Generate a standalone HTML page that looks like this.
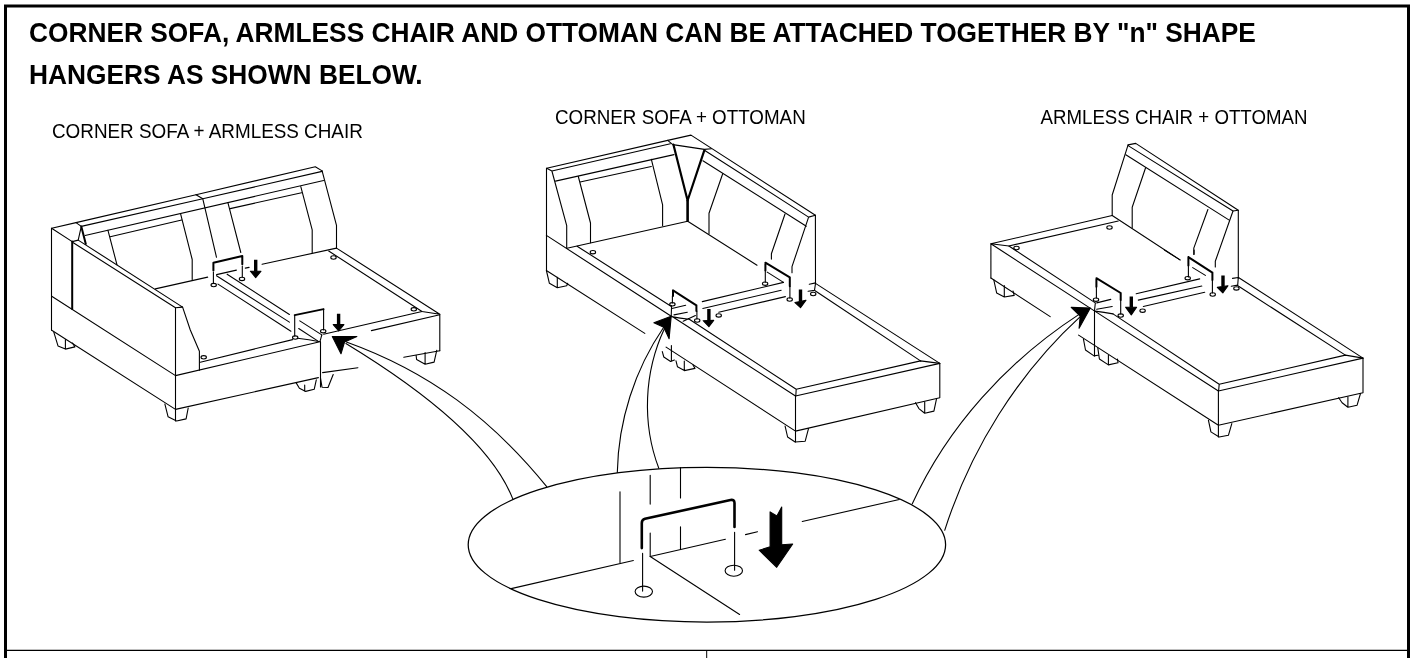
<!DOCTYPE html>
<html><head><meta charset="utf-8">
<style>
html,body{margin:0;padding:0;background:#fff;}
body{width:1417px;height:658px;overflow:hidden;position:relative;}
svg{position:absolute;left:0;top:0;}
text{font-family:"Liberation Sans",sans-serif;fill:#000;}
svg{will-change:transform;}
.t{font-weight:bold;font-size:26.33px;}
.s{font-size:18.8px;}
</style></head><body>
<svg width="1417" height="658" viewBox="0 0 1417 658">
<rect x="5.5" y="6" width="1403" height="700" fill="none" stroke="#000" stroke-width="3"/>
<line x1="7" y1="650.4" x2="1407" y2="650.4" stroke="#000" stroke-width="1.1"/>
<line x1="706.7" y1="650.4" x2="706.7" y2="658" stroke="#000" stroke-width="1"/>
<text class="t" transform="translate(29,42.3) scale(1,1.045)">CORNER SOFA, ARMLESS CHAIR AND OTTOMAN CAN BE ATTACHED TOGETHER BY "n" SHAPE</text>
<text class="t" transform="translate(29,84.4) scale(1,1.045)">HANGERS AS SHOWN BELOW.</text>
<text class="s" style="font-size:18.88px" transform="translate(52,137.7) scale(1,1.06)">CORNER SOFA + ARMLESS CHAIR</text>
<text class="s" transform="translate(555,124.4) scale(1,1.06)">CORNER SOFA + OTTOMAN</text>
<text class="s" style="font-size:18.69px" transform="translate(1040.5,124.4) scale(1,1.06)">ARMLESS CHAIR + OTTOMAN</text>
<g fill="none" stroke="#000" stroke-width="1.1" stroke-linejoin="round" stroke-linecap="round">
<!-- SOFA1 -->
<path d="M51.7,228.3 L76,222.6 L196,194.7 L315.3,166.8 L322.1,170.9"/>
<path d="M76,222.6 L81.3,226.4 L78.2,240.1 M72.2,241.6 L78.2,240.1"/>
<path d="M81.3,226.4 L85.8,243.9" stroke-width="2"/>
<path d="M81.3,226.4 L202.8,198.8 L322.1,171.4"/>
<path d="M196,194.7 L202.8,198.8 L216.5,257.3"/>
<path d="M85.1,235.5 L323.6,180.5"/>
<path d="M322.1,170.9 L336.5,225.3 L336.5,248.1"/>
<path d="M110.2,236.7 L181.7,220 M107.9,230.2 L117,264.8"/>
<path d="M180.6,213.8 L192.2,259.5 L192.2,279.5"/>
<path d="M230.2,208.6 L301.6,192.7 M227.9,202.6 L240.8,252.5"/>
<path d="M300.8,186.6 L312.2,229.9 L312.2,252.7"/>
<path d="M51.6,228.3 L72.2,241.6 M51.5,228.3 L51.5,330.2"/>
<path d="M72.2,241.6 L72.2,308.9" stroke-width="2"/>
<path d="M73.3,242.7 L175.5,307.8 M78.2,240.1 L182.6,307.1 M175.5,307.8 L182.6,307.1"/>
<path d="M175.5,307.8 L175.5,421 M182.6,307.1 L190.3,330 L199.4,351.2 L199.4,370.2"/>
<path d="M51.7,296.2 L175.5,375.6 M51.7,330.2 L175.5,409.4 L318.4,377.6"/>
<path d="M53.8,332.1 L58,345.9 L65.4,349.1 L74.9,346.9 L72.5,343 M65.4,339.5 L65.4,349.1"/>
<path d="M164.9,404.1 L168.1,416.8 L176.6,421 L186.1,418.9 L188.2,408"/>
<path d="M155.3,288.9 L207.7,277.1 M262.1,264.3 L336.5,248.1 M216.6,274.6 L236.4,270.1"/>
<path d="M200.3,362.2 L292.6,339.6 M297.5,338.3 Q309,339.5 319.9,341.8 M175.5,375.6 L319.9,341.8 M321.8,334.9 L319.9,341.8"/>

<path d="M216.5,275.7 L289.4,322.1 M218,284.1 L290.9,331.2 M227.1,274.2 L289.4,314.5"/>
<path d="M299.8,320.9 L321.8,334.9 M298.7,328.5 L318.4,341.4"/>
<path d="M213.4,262.8 L242.3,256 M213.4,262.8 L213.4,270.4 M242.3,256 L242.3,264.3" stroke-width="2"/>
<path d="M213.4,272 L213.4,283 M242.3,266 L242.3,277"/>
<path d="M294.7,315.2 L323.6,309.1" stroke-width="1.8"/>
<path d="M294.7,315.2 L294.7,336 M323.6,309.1 L323.6,330"/>
<ellipse cx="213.7" cy="285.1" rx="2.7" ry="1.7"/>
<ellipse cx="242" cy="278.9" rx="2.7" ry="1.7"/>
<ellipse cx="295.2" cy="337.6" rx="2.7" ry="1.7"/>
<ellipse cx="323.2" cy="331.2" rx="2.7" ry="1.7"/>
<ellipse cx="333.5" cy="257.5" rx="2.7" ry="1.7"/>
<ellipse cx="203.7" cy="357.3" rx="2.7" ry="1.7"/>
<ellipse cx="413.8" cy="309.3" rx="2.7" ry="1.7"/>
<path d="M336.5,248.1 L439.8,314.2 M328.7,251 L422,311.5 L439.8,314.2"/>
<path d="M422,311.5 L323.6,334.2 M439.8,314.2 L439.8,350.7 M371.4,330.6 L439.8,314.7"/>
<path d="M403.8,357.3 L439.8,350.7 M322.6,372.6 L357.9,367.7 M320.5,341.6 L320.5,387"/>
<path d="M416.1,355.2 L416.6,359.5 L425.1,364.3 L434.1,362.1 L436.8,350.2 M425.1,352.6 L425.1,364.3"/>
<path d="M296.2,382.9 L299.4,388.2 L305.7,391.4 L314.2,389.3 L316.3,379.8 M304.7,385 L304.7,391.2 M320.5,378 L322,387.2 L328,387.5 L333.2,374.5"/>
<path d="M255.7,259.8 L255.7,271.5 M338.6,313.7 L338.6,324.8" stroke-width="3.4" stroke-linecap="butt"/>
<path d="M250.4,271.2 L261,271.2 L255.7,277.6 Z M333.2,324.6 L343.9,324.6 L338.7,331 Z" fill="#000"/>
<path d="M332.3,336.5 L356.9,336.5 L344.6,341.9 L341,353.8 Z" fill="#000"/>

<path d="M245.3,268.1 L249.1,267.4"/>
<!-- SOFA1_END -->
<!-- SOFA2 -->
<path d="M546.7,168.3 L667.7,140.4 L691,135.1 L815.4,215.3"/>
<path d="M546.7,168.3 L551.9,171 L670.4,143.7 M551.9,171 L566.7,225.7 L566.7,248.2"/>
<path d="M555.5,181.1 L674,154.6"/>
<path d="M667.7,140.4 L672.8,144.6 M672.8,144.6 L704.4,149.4 L711.3,148.7 M690,147.2 L704.4,149.4"/>
<path d="M673.4,144.6 L687.6,200.5 L704.4,150.2" stroke-width="2.2"/>
<path d="M687.6,200 L687.6,221.4" stroke-width="2.6" stroke-linecap="butt"/>
<path d="M580.1,182 L651.3,166.5 M578.3,176.5 L590.5,223 L590.5,242.8 M651.3,159.2 L662.6,204.8 L662.6,225.7"/>
<path d="M567,248.2 L687.7,221.2 L757,265.2"/>
<path d="M704.4,150.2 L808.6,217.1 L815.4,215.3 M702.9,160.8 L806.3,226.2 M808.6,217.1 L792,266.7 L792,272.8"/>
<path d="M815.4,215.3 L815.5,283.4"/>
<path d="M722.7,173.8 L709,213.3 L709,233.8 M785,214 L771.4,253.8 L771.4,259.1"/>
<path d="M546.5,168.3 L546.5,270.5 M546.4,235.4 L670.9,316 M577.1,246.2 L671.4,306.5"/>
<path d="M546.4,270.5 L644.8,333.4"/>
<path d="M546.4,270.5 L549.4,283.3 L557.3,287.7 L566.7,285.8 L567.7,283.3 M557.3,277.4 L557.3,287.7"/>
<path d="M671.6,305.5 L671.2,316 M671.4,345.6 L671.4,360.8"/>
<path d="M666.1,347.1 L795.5,431.1 L939.8,397.7 L939.8,363.4 L795.5,396 L795.5,442"/>
<path d="M671.4,316 L795.5,396 M689.3,319.2 L796.2,389.3 L920.5,360.9 L939.8,363.4 M683.2,321.3 L695.4,315.5 M671.6,316.6 Q680,318.2 689.3,319.2 M796.2,389.3 L795.8,396"/>
<path d="M815.5,283.4 L939.8,363.4 M815.1,290.7 L920.5,360.9"/>
<path d="M662.3,351.6 L663.8,357 L670.6,361.5 L674.4,360 M676,360.8 L677.5,366.8 L684.3,370.6 L695,368.4 L693,365 M684.3,361 L684.3,370.6"/>
<path d="M785.1,426.1 L787.6,437 L795.1,442 L805.2,441.2 L808.5,428.6"/>
<path d="M915.5,402.7 L918.9,408.6 L924.7,413.2 L933.9,411.1 L936.4,399.4 M924.7,401.9 L924.7,413.2"/>
<path d="M673,290.4 L696.4,305.3 M673,290.4 L673,296 M696.4,305.3 L696.4,311" stroke-width="2"/>
<path d="M672.4,296 L672.4,303 M696.9,311 L696.9,319"/>
<path d="M765.4,262.7 L789.8,277.4 M765.4,262.7 L765.4,270.6 M789.8,277.4 L789.8,286.2" stroke-width="2"/>
<path d="M765.3,270.6 L765.3,282.2 M789.9,286.2 L789.9,298.3"/>
<path d="M671.9,308.5 L685.7,305.3 M674,314.9 L687.3,312.2 M767.2,272.1 L783.5,282.4"/>
<path d="M702.3,301.6 L783.5,282.4 M702.8,308.5 L781.2,290.3 M718.7,312.2 L785.4,296.6"/>
<path d="M809.3,284.3 L815.6,282.9 L814.5,290.4 L808.1,291.3"/>
<ellipse cx="672.4" cy="304.3" rx="2.7" ry="1.7"/>
<ellipse cx="697.2" cy="320.5" rx="2.7" ry="1.7"/>
<ellipse cx="718.7" cy="315.4" rx="2.7" ry="1.7"/>
<ellipse cx="765.1" cy="283.7" rx="2.7" ry="1.7"/>
<ellipse cx="789.7" cy="299.5" rx="2.7" ry="1.7"/>
<ellipse cx="813.2" cy="294" rx="2.7" ry="1.7"/>
<ellipse cx="592.9" cy="252.2" rx="2.7" ry="1.7"/>
<path d="M708.9,309.1 L708.9,320.5 M800.5,289.5 L800.5,301" stroke-width="3.4" stroke-linecap="butt"/>
<path d="M703.2,320.7 L713.7,320.3 L708.9,326.7 Z M795,302.5 L806,300.2 L800.5,307.7 Z" fill="#000"/>
<path d="M671.2,316.2 L653.9,322.8 L663.8,327.3 L669.1,338.7 Z" fill="#000"/>

<!-- SOFA2_END -->
<!-- SOFA3 -->
<path d="M1128.1,144.9 L1135.7,143.4 L1238.3,210.2 L1233,211 L1128.1,145.6"/>
<path d="M1125.8,154.8 L1229.2,220.1"/>
<path d="M1128.1,144.9 L1112.2,195 L1112.2,215.5"/>
<path d="M1145.6,167.7 L1132.2,207.2 L1132.2,227.7 M1207.9,209.5 L1193.8,248.1 L1193.8,254.5"/>
<path d="M1233,211 L1215.3,261.3 L1215.3,266.9 M1238.3,210.2 L1238.3,278.2"/>
<path d="M1112.2,215.5 L1180,259.9"/>
<path d="M990.9,243.8 L1112.2,215.5 M990.9,243.8 L1008.9,246 L1118.3,221"/>
<path d="M990.9,243.8 L990.9,278 M990.9,243.8 L1094,310.6 M1008.9,246 L1095.3,302.9"/>
<path d="M990.9,278 L1050.2,316.6 M1078.6,335.1 L1218.4,425.3 L1363,392.7 L1363,358.1 L1218.4,391 L1218.4,437"/>
<path d="M1094.5,310.6 L1094.5,356 M1095.3,303.3 L1094.5,310.6"/>
<path d="M1094,310.6 L1218.4,391 M1113,313.9 L1219.2,384.3 L1218.6,391 M1219.2,384.3 L1345.4,355.1 L1363,358.1"/>
<path d="M1238.5,277.5 L1363,358.1 M1237.1,285.3 L1345.4,355.1"/>
<path d="M1232.5,278.4 L1238.3,277.5 L1237.7,285.1 L1231.3,286.3"/>
<path d="M993.7,279.5 L996.7,293.1 L1004.3,297 L1014.2,295.4 L1013,291 M1004.3,285.5 L1004.3,297"/>
<path d="M1083.4,338.8 L1085.5,350 L1094,355.9 L1097.8,355.3 M1097.8,347.9 L1099.4,359 L1108.4,364.9 L1118,362.8 L1117.5,359 M1108.4,355.3 L1108.4,364.9"/>
<path d="M1208.4,420.2 L1210.9,431.9 L1219.2,437 L1228.4,435.3 L1231.8,423.6"/>
<path d="M1338.7,397.7 L1342.1,402.7 L1347.9,407.2 L1357.1,405.2 L1360.5,393.5 M1347.9,396.8 L1347.9,407.2"/>
<path d="M1096.4,278.2 L1120.7,293 M1096.4,278.2 L1096.4,286.7 M1120.7,293 L1120.7,300" stroke-width="2"/>
<path d="M1096.4,286.7 L1096.4,298 M1120.7,300 L1120.7,314"/>
<path d="M1188.4,257.1 L1212.4,272.6 M1188.4,257.1 L1188.4,265.5 M1212.4,272.6 L1212.4,280" stroke-width="2"/>
<path d="M1188.4,265.5 L1188.4,277 M1212.4,280 L1212.4,293"/>
<path d="M1096.7,302.9 L1110.8,299.4 M1096.7,309.3 L1112.2,306.5 M1095,311.1 Q1104,312.3 1113,313.9 M1192.7,267.6 L1205.4,275.4"/>
<path d="M1136.2,293.8 L1199.7,278.9 M1138.3,300.1 L1201.8,286 M1143.3,306.5 L1204.7,292.3"/>
<path d="M1164.4,250 L1180,259.9 M1194.1,250 L1194.1,254.2"/>
<ellipse cx="1096" cy="299.7" rx="2.7" ry="1.7"/>
<ellipse cx="1120.7" cy="315.6" rx="2.7" ry="1.7"/>
<ellipse cx="1142.6" cy="310.7" rx="2.7" ry="1.7"/>
<ellipse cx="1187.7" cy="278.2" rx="2.7" ry="1.7"/>
<ellipse cx="1212.7" cy="294.5" rx="2.7" ry="1.7"/>
<ellipse cx="1236.4" cy="288.4" rx="2.7" ry="1.7"/>
<ellipse cx="1016.5" cy="248" rx="2.7" ry="1.7"/>
<ellipse cx="1109.5" cy="227.5" rx="2.7" ry="1.7"/>
<path d="M1131.3,296.6 L1131.3,307.2 M1223,275.4 L1223,286" stroke-width="3.4" stroke-linecap="butt"/>
<path d="M1125.6,307.2 L1136.6,307.2 L1131.3,314.9 Z M1217.3,287.3 L1228,285.8 L1222.8,292.9 Z" fill="#000"/>
<path d="M1090.3,308 L1071.2,307.4 L1080.2,316 L1079.1,328.2 Z" fill="#000"/>

<!-- SOFA3_END -->
<!-- DETAIL -->
<path d="M345.9,343.5 C403.6,378.6 488.4,436.1 513.0,499.4"/>
<path d="M346.4,341.9 C428.9,371.5 491.6,418.7 546.7,486.6"/>
<path d="M663.7,327.3 C634.6,369.8 618.3,420.9 617.3,472.4"/>
<path d="M664.5,328.5 C644.0,372.0 641.8,423.4 658.8,468.3"/>
<path d="M1078.7,314.6 C1007.6,360.9 947.5,426.7 912.3,503.8"/>
<path d="M1080.5,316.4 C1017.6,374.0 970.7,449.3 944.7,530.3"/>
<ellipse cx="706.9" cy="544.65" rx="238.7" ry="77.35" stroke-width="1.25"/>
<path d="M511.2,588.6 L633.4,560.5 M650.2,556.5 L725.4,539.2 M745.5,534.6 L757.5,531.7 M802.2,521.5 L899.3,499.5"/>
<path d="M620,491.9 L620,562.6"/>
<path d="M650.2,475.2 L650.2,504.1 M650.2,533 L650.2,556.5"/>
<path d="M680.5,467.6 L680.5,498 M680.5,526.9 L680.5,549.5"/>
<path d="M650.2,556.5 L739.6,614.5"/>
<path d="M641.8,548.1 L641.8,523 Q641.8,519.6 645,518.8 L730.5,500 Q734.5,499.3 734.5,503 L734.5,526.9" stroke-width="2.6"/>
<path d="M642.6,553.4 L642.6,591.1 M734.6,532.2 L734.6,570.2"/>
<ellipse cx="643.8" cy="591.6" rx="8.7" ry="5.5"/>
<ellipse cx="733.8" cy="570.7" rx="8.7" ry="5.5"/>
<path d="M770.1,511.9 L776.9,516 L781.7,507.1 L781.7,544.7 L792.7,544 L776.7,567.3 L759.2,550.2 L770.1,546.8 Z" fill="#000"/>

<!-- DETAIL_END -->
</g>
</svg>
</body></html>
